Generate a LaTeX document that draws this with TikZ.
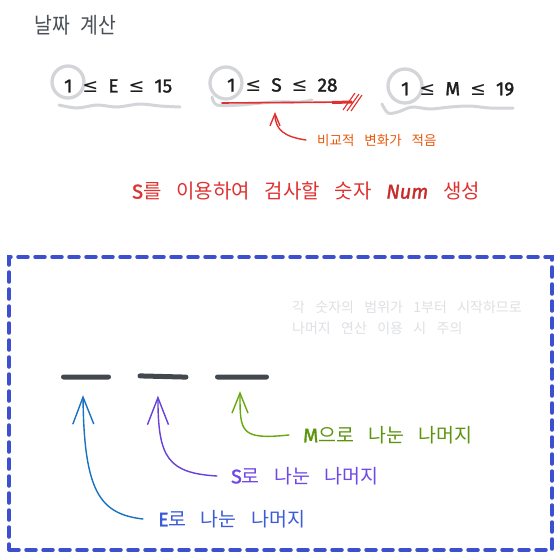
\documentclass[tikz,border=0pt]{standalone}
\usepackage{fontspec}
\setmainfont{Noto Sans CJK KR}
\newfontfamily\kr[WordSpace=3.3]{Noto Sans CJK KR}
\newfontfamily\krt[WordSpace=2.4,FakeStretch=0.88]{Noto Sans CJK KR}
\newfontfamily\hw[FakeBold=1.6]{Fira Sans}
\newfontfamily\sym{DejaVu Sans}
\usetikzlibrary{arrows.meta}
\definecolor{titlegray}{HTML}{495057}
\definecolor{inkblack}{HTML}{1E1E1E}
\definecolor{ringgray}{HTML}{D3D5D8}
\definecolor{redc}{HTML}{E03131}
\definecolor{darkred}{HTML}{C92A2A}
\definecolor{orangec}{HTML}{E8590C}
\definecolor{boxblue}{HTML}{3B4FCF}
\definecolor{ltgray}{HTML}{DEE0E3}
\definecolor{barc}{HTML}{43484F}
\definecolor{arrblue}{HTML}{1971C2}
\definecolor{textblue}{HTML}{3B5BDB}
\definecolor{arrpurple}{HTML}{6741D9}
\definecolor{textpurple}{HTML}{7048E8}
\definecolor{arrgreen}{HTML}{66A80F}
\definecolor{textgreen}{HTML}{5C940D}
\begin{document}
\begin{tikzpicture}[x=1pt,y=-1pt,
  formula/.style={anchor=west,inner sep=0pt,text=inkblack,font=\hw\fontsize{19}{21}\selectfont},
  ring/.style={circle,draw=ringgray,line width=3.3pt,inner sep=0pt},
  wave/.style={draw=ringgray,line width=3pt,line cap=round},
  label/.style={anchor=west,inner sep=0pt,font=\kr\fontsize{19.5}{22}\selectfont},
  bar/.style={fill=barc,rounded corners=2.5pt,inner sep=0pt,minimum height=5pt},
  frame/.style={draw=boxblue,line width=3.5pt,dash pattern=on 10pt off 7pt,line cap=round,inner sep=0pt},
  conn/.style={line width=1.4pt,line cap=round},
  bighead/.style={-{Straight Barb[length=27pt,width=21pt]}}
]
\useasboundingbox (0,0) rectangle (560,560);
\fill[white] (0,0) rectangle (560,560);

% title
\node[anchor=west,inner sep=0pt,text=titlegray,font=\krt\fontsize{22}{24}\selectfont] (title) at (34,25) {날짜 계산};

% rings and waves
\node[ring,minimum size=32pt] (cE) at (68,82) {};
\node[ring,minimum size=32pt] (cS) at (226,83) {};
\node[ring,minimum size=34pt] (cM) at (405,86) {};
\draw[wave] plot[smooth] coordinates {(59,105)(77,108)(97,105)(117,107)(140,104)(160,106)(180,107)};
\draw[wave] plot[smooth] coordinates {(212,97)(217,105)(240,105)(273,102)(300,102)(312,100)};
\draw[wave] plot[smooth] coordinates {(382,104)(388,113)(398,112)(412,107)(430,109)(450,107)(470,106)(490,108)(513,108)};

% formulas
\node[formula] (fE) at (64,86) {1\hspace{10pt}{\sym ≤}\hspace{10pt}E\hspace{10pt}{\sym ≤}\hspace{10pt}15};
\node[formula] (fS) at (227,85) {1\hspace{10pt}{\sym ≤}\hspace{10pt}S\hspace{10pt}{\sym ≤}\hspace{10pt}28};
\node[formula] (fM) at (401,89) {1\hspace{10pt}{\sym ≤}\hspace{10pt}M\hspace{10pt}{\sym ≤}\hspace{10pt}19};

% red underline with hatch
\draw[redc,line width=1.6pt,line cap=round] (222,103) -- (352,102);
\draw[redc,line width=3pt] (332,102.5) -- (352,102);
\draw[redc,line width=1.1pt] (343,110) -- (355,93) (347,111) -- (359,94) (351,111) -- (362,95);

% note and red arrow
\node[anchor=west,inner sep=0pt,text=orangec,font=\kr\fontsize{13.5}{15}\selectfont] (note) at (317,140) {비교적 변화가 적음};
\coordinate (rtip) at (275,112);
\draw[redc,conn,-{Straight Barb[length=12pt,width=10pt]}] ([xshift=-11pt]note.west) .. controls (285,137) and (275,130) .. (rtip);

% goal text
\node[anchor=west,inner sep=0pt,text=redc,font=\kr\fontsize{20}{24}\selectfont] (goal) at (132,191) {{\hw S}를 이용하여 검사할 숫자 {\hw\itshape\color{darkred}Num} 생성};

% dashed frame
\node[frame,minimum width=543pt,minimum height=293pt] (box) at (280.5,403.5) {};

% warning
\node[anchor=north west,align=left,inner sep=0pt,text=ltgray,font=\kr\fontsize{14}{21}\selectfont] (warn) at (292,301) {각 숫자의 범위가 1부터 시작하므로\\나머지 연산 이용 시 주의};

% bars
\node[bar,minimum width=50pt] (b1) at (86,377) {};
\node[bar,minimum width=51pt,rotate=-1.5] (b2) at (163,376.5) {};
\node[bar,minimum width=54pt] (b3) at (242,377) {};

% labels
\node[label,text=textblue] (lE) at (158,519) {{\hw E}로 나눈 나머지};
\node[label,text=textpurple] (lS) at (231,476) {{\hw S}로 나눈 나머지};
\node[label,text=textgreen] (lM) at (303,435) {{\hw M}으로 나눈 나머지};

% arrows
\draw[conn,draw=arrblue,bighead] ([xshift=-15pt]lE.west) .. controls (100,514) and (84,492) .. ([xshift=-3pt,yshift=-15.5pt]b1.south);
\draw[conn,draw=arrpurple,bighead] ([xshift=-14pt]lS.west) .. controls (168,473) and (158,458) .. ([xshift=-5pt,yshift=-16.5pt]b2.south);
\draw[conn,draw=arrgreen,-{Straight Barb[length=20pt,width=16pt]}] ([xshift=-14pt]lM.west) .. controls (240,440) and (240,432) .. ([xshift=-2pt,yshift=-11.5pt]b3.south);
\end{tikzpicture}
\end{document}
